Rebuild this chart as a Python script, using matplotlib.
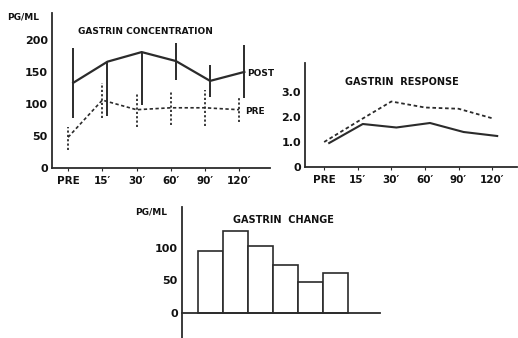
import numpy as np
import matplotlib
matplotlib.use("Agg")
import matplotlib.pyplot as plt

plt.rcParams['font.family'] = ['DejaVu Sans']

times = ['PRE', "15′", "30′", "60′", "90′", "120′"]

# gastrin concentration (pg/ml)
post_conc = [133, 166, 181, 167, 136, 150]
post_lo = [78, 81, 98, 137, 111, 109]
post_hi = [187, 166, 181, 195, 161, 192]
pre_conc = [48, 106, 91, 94, 94, 91]
pre_lo = [28, 78, 64, 67, 66, 72]
pre_hi = [64, 133, 117, 119, 122, 111]

# gastrin response (ratio)
resp_post = [0.96, 1.72, 1.58, 1.76, 1.40, 1.24]
resp_pre = [1.0, 1.82, 2.62, 2.38, 2.33, 1.95]

# gastrin change (pg/ml)
change = [95, 126, 103, 74, 48, 62]

W, H = 518, 338
fig = plt.figure(figsize=(W / 100, H / 100), dpi=100)
ink = '#2b2b2b'


def ax_px(x0, y_bottom, x1, y_top):
    return fig.add_axes([x0 / W, 1 - y_bottom / H, (x1 - x0) / W, (y_bottom - y_top) / H])


def txt(x, y, s, size=7, **kw):
    fig.text(x / W, 1 - y / H, s, fontsize=size, fontweight='bold', color='#111111',
             va='center', **kw)


def style(ax):
    for s in ['top', 'right']:
        ax.spines[s].set_visible(False)
    for s in ['left', 'bottom']:
        ax.spines[s].set_linewidth(1.3)
        ax.spines[s].set_color(ink)
    ax.tick_params(axis='y', length=0, pad=3, labelsize=8)
    ax.tick_params(axis='x', length=2, width=0.8, pad=4, labelsize=7.5, colors=ink)
    for lab in ax.get_xticklabels() + ax.get_yticklabels():
        lab.set_fontweight('bold')
        lab.set_color('#111111')


x = np.arange(len(times))

# ---- panel 1: concentration
ax1 = ax_px(52, 168, 270, 13)
ax1.plot(x + 0.15, post_conc, color=ink, lw=1.6)
ax1.vlines(x + 0.15, post_lo, post_hi, color=ink, lw=1.4)
ax1.plot(x, pre_conc, color=ink, lw=1.2, dashes=(2, 1.5))
ax1.vlines(x, pre_lo, pre_hi, color=ink, lw=1.3, linestyles=(0, (1.2, 1.2)))
ax1.set_xlim(-0.47, 5.9)
ax1.set_ylim(0, 242)
ax1.set_xticks(x)
ax1.set_xticklabels(times)
ax1.set_yticks([0, 50, 100, 150, 200])
style(ax1)

txt(7, 17, 'PG/ML', 6.5)
txt(78, 32, 'GASTRIN CONCENTRATION', 6.5)
txt(247, 73, 'POST', 6.5)
txt(245, 112, 'PRE', 6.5)

# ---- panel 2: response
ax2 = ax_px(305, 167, 517, 63)
ax2.plot(x + 0.15, resp_post, color=ink, lw=1.5)
ax2.plot(x, resp_pre, color=ink, lw=1.3, dashes=(2, 1.5))
ax2.set_xlim(-0.57, 5.74)
ax2.set_ylim(0, 4.16)
ax2.set_xticks(x)
ax2.set_xticklabels(times)
ax2.set_yticks([0, 1, 2, 3])
ax2.set_yticklabels(['0', '1.0', '2.0', '3.0'])
style(ax2)
txt(345, 82, 'GASTRIN  RESPONSE', 7)

# ---- panel 3: change
ax3 = ax_px(182, 338, 380, 207)
ax3.bar(x, change, width=1.0, color='white', edgecolor=ink, linewidth=1.2)
ax3.set_xlim(-1.14, 6.78)
ax3.set_ylim(-38.5, 163)
ax3.spines['bottom'].set_position(('data', 0))
ax3.set_xticks([])
ax3.set_yticks([0, 50, 100])
style(ax3)
ax3.tick_params(axis='y', pad=3)
txt(135, 212, 'PG/ML', 6.5)
txt(233, 220, 'GASTRIN  CHANGE', 7)

fig.savefig('out.png', dpi=100)
